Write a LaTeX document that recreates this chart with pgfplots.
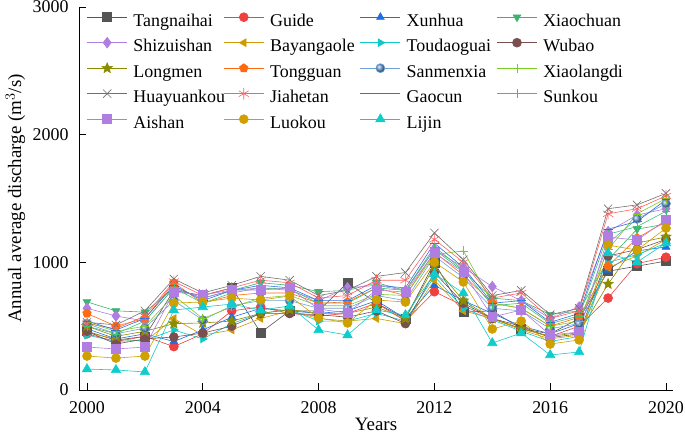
\documentclass[border=0pt]{standalone}
\usepackage{fontspec}
\setmainfont{Liberation Serif}
\usepackage{pgfplots}
\usepackage{pgfplotstable}
\pgfplotsset{compat=1.18}
\usetikzlibrary{plotmarks}

\definecolor{cTan}{HTML}{555555}
\definecolor{cGui}{HTML}{F0403F}
\definecolor{cXun}{HTML}{1E6FE0}
\definecolor{cXch}{HTML}{3CB371}
\definecolor{cShi}{HTML}{B07EE0}
\definecolor{cBay}{HTML}{D09A00}
\definecolor{cTou}{HTML}{10C8C8}
\definecolor{cWub}{HTML}{7A4F4F}
\definecolor{cLon}{HTML}{8C8C00}
\definecolor{cTon}{HTML}{FF6A10}
\definecolor{cSan}{HTML}{6FA0D8}
\definecolor{cXla}{HTML}{7CCD22}
\definecolor{cHua}{HTML}{707070}
\definecolor{cJia}{HTML}{FF6060}
\definecolor{cGao}{HTML}{3070E0}
\definecolor{cSun}{HTML}{40C070}
\definecolor{cAis}{HTML}{B07EE0}
\definecolor{cLuo}{HTML}{D0A000}
\definecolor{cLij}{HTML}{10CCCC}

\pgfdeclareplotmark{fstar}{%
  \pgfpathmoveto{\pgfpointpolar{90}{\pgfplotmarksize}}%
  \pgfpathlineto{\pgfpointpolar{126}{0.45\pgfplotmarksize}}%
  \pgfpathlineto{\pgfpointpolar{162}{\pgfplotmarksize}}%
  \pgfpathlineto{\pgfpointpolar{198}{0.45\pgfplotmarksize}}%
  \pgfpathlineto{\pgfpointpolar{234}{\pgfplotmarksize}}%
  \pgfpathlineto{\pgfpointpolar{270}{0.45\pgfplotmarksize}}%
  \pgfpathlineto{\pgfpointpolar{306}{\pgfplotmarksize}}%
  \pgfpathlineto{\pgfpointpolar{342}{0.45\pgfplotmarksize}}%
  \pgfpathlineto{\pgfpointpolar{18}{\pgfplotmarksize}}%
  \pgfpathlineto{\pgfpointpolar{54}{0.45\pgfplotmarksize}}%
  \pgfpathclose\pgfusepathqfillstroke}

\pgfplotsset{
  every axis plot/.append style={
    legend image code/.code={\draw[mark repeat=2,mark phase=2,##1] plot coordinates {(0bp,0bp) (20bp,0bp) (40bp,0bp)};},
  },
}

\pgfplotstableread{
year Tan Gui Xun Xch Shi Bay Tou Wub Lon Ton San Xla Hua Jia Gao Sun Ais Luo Lij
2000 460 440 480 690 640 450 430 460 500 600 520 530 530 520 540 500 337 266 164
2001 390 380 400 620 580 400 380 360 420 500 440 460 510 480 470 440 321 250 157
2002 420 420 440 610 540 380 390 400 460 560 485 500 620 580 560 540 337 266 141
2003 780 340 380 800 800 560 470 415 520 840 700 740 870 850 820 800 767 681 626
2004 740 440 470 720 720 430 400 446 525 680 548 560 760 740 700 680 744 689 650
2005 800 620 570 780 780 470 520 500 540 740 660 650 820 800 780 760 783 720 673
2006 450 650 640 840 800 560 600 600 600 760 700 720 890 860 820 800 783 705 626
2007 620 600 620 820 780 620 630 600 630 760 700 740 860 840 800 790 799 736 658
2008 620 580 600 770 700 560 540 590 600 680 640 660 740 720 700 680 634 564 470
2009 840 600 620 780 800 540 540 570 600 690 640 660 780 740 700 680 603 525 430
2010 680 680 700 840 820 560 600 620 650 800 740 750 890 860 820 800 783 705 626
2011 560 540 560 780 780 520 540 520 560 740 700 740 920 860 800 780 767 689 587
2012 1000 770 820 1100 1100 860 890 920 970 1080 1050 1060 1230 1180 1150 1120 1072 1002 910
2013 610 660 700 930 960 620 640 680 700 900 880 1090 1020 1000 960 940 924 846 759
2014 620 560 600 720 810 560 550 560 560 680 640 680 740 720 680 660 572 478 368
2015 480 480 500 700 700 470 460 500 480 640 620 640 780 760 700 680 626 540 446
2016 440 420 440 590 560 400 380 410 420 500 480 500 590 560 530 520 431 360 274
2017 560 500 520 620 650 430 420 440 450 570 520 540 640 620 600 580 454 392 298
2018 930 720 940 1020 1240 960 1000 1050 830 970 1150 1100 1420 1380 1260 1220 1198 1135 1072
2019 970 990 1090 1260 1370 1050 1060 1100 1150 1190 1340 1380 1450 1420 1320 1280 1174 1096 1002
2020 1010 1040 1120 1300 1420 1180 1150 1180 1200 1320 1460 1500 1540 1520 1490 1400 1331 1268 1151
}\datatable

\newcommand{\lb}[1]{\hspace{6bp}\makebox[90bp][l]{\rule[-7bp]{0pt}{26.5bp}#1}}

\begin{document}
\begin{tikzpicture}
\begin{axis}[
  name=ax,
  scale only axis,
  width=594bp, height=383bp,
  xmin=1999.724, xmax=2020.242,
  ymin=0, ymax=3000,
  axis x line*=bottom, axis y line*=left,
  axis line style={-, line width=0.9pt},
  tick align=inside,
  major tick length=7bp,
  tick style={line width=0.9pt, black},
  xtick={2000,2004,...,2020},
  ytick={0,1000,2000,3000},
  minor tick num=0,
  /pgf/number format/.cd, 1000 sep={}, assume math mode=true, /pgfplots/.cd,
  ticklabel style={font=\fontsize{18}{20}\selectfont},
  xticklabel style={anchor=base, yshift=-23bp},
  yticklabel style={anchor=east, xshift=-7bp},
  label style={font=\fontsize{19}{22}\selectfont},
  xlabel={Years},
  ylabel={Annual average discharge (m$^{3}$/s)},
  xlabel style={at={(axis description cs:0.5,0)}, anchor=base, yshift=-40.5bp, inner sep=0pt},
  ylabel style={at={(axis description cs:-0.0976,0.5)}, anchor=base},
  every axis plot/.append style={line width=0.6pt, mark size=4.5pt},
  legend columns=4,
  legend cell align=left,
  legend style={at={(axis description cs:0,1)}, anchor=north west,
    xshift=7.7bp, yshift=0.5bp, inner sep=0pt,
    draw=none, fill=none, font=\fontsize{18}{20}\selectfont,
    nodes={inner sep=0pt}, row sep=4.5bp, column sep=0pt},
]
\addplot[color=cTan, mark=square*, mark options={fill=cTan}] table[x=year,y=Tan] {\datatable};
\addplot[color=cGui, mark=*, mark options={fill=cGui}] table[x=year,y=Gui] {\datatable};
\addplot[color=cXun, mark=triangle*, mark options={fill=cXun}] table[x=year,y=Xun] {\datatable};
\addplot[color=cXch, mark=triangle*, mark options={fill=cXch, rotate=180}] table[x=year,y=Xch] {\datatable};
\addplot[color=cShi, mark=diamond*, mark options={fill=cShi, scale=1.2}] table[x=year,y=Shi] {\datatable};
\addplot[color=cBay, mark=triangle*, mark options={fill=cBay, rotate=90}] table[x=year,y=Bay] {\datatable};
\addplot[color=cTou, mark=triangle*, mark options={fill=cTou, rotate=-90}] table[x=year,y=Tou] {\datatable};
\addplot[color=cWub, mark=*, mark options={fill=cWub}] table[x=year,y=Wub] {\datatable};
\addplot[color=cLon, mark=fstar, mark options={fill=cLon, scale=1.2}] table[x=year,y=Lon] {\datatable};
\addplot[color=cTon, mark=pentagon*, mark options={fill=cTon}] table[x=year,y=Ton] {\datatable};
\addplot[color=cSan, mark=ball, mark options={ball color=cSan}] table[x=year,y=San] {\datatable};
\addplot[color=cXla, mark=+, mark options={line width=0.6pt}] table[x=year,y=Xla] {\datatable};
\addplot[color=cHua, mark=x, mark options={line width=0.6pt, scale=1.3}] table[x=year,y=Hua] {\datatable};
\addplot[color=cJia, mark=asterisk, mark options={line width=0.6pt, scale=1.3}] table[x=year,y=Jia] {\datatable};
\addplot[color=cGao, mark=-, mark options={line width=0.8pt}] table[x=year,y=Gao] {\datatable};
\addplot[color=cSun, mark=+, mark options={line width=0.6pt}] table[x=year,y=Sun] {\datatable};
\addplot[color=cAis, mark=square*, mark options={fill=cAis}] table[x=year,y=Ais] {\datatable};
\addplot[color=cLuo, mark=*, mark options={fill=cLuo}] table[x=year,y=Luo] {\datatable};
\addplot[color=cLij, mark=triangle*, mark options={fill=cLij, scale=1.2}] table[x=year,y=Lij] {\datatable};
\legend{\lb{Tangnaihai},\lb{Guide},\lb{Xunhua},\lb{Xiaochuan},
\lb{Shizuishan},\lb{Bayangaole},\lb{Toudaoguai},\lb{Wubao},
\lb{Longmen},\lb{Tongguan},\lb{Sanmenxia},\lb{Xiaolangdi},
\lb{Huayuankou},\lb{Jiahetan},\lb{Gaocun},\lb{Sunkou},
\lb{Aishan},\lb{Luokou},\lb{Lijin}}
\end{axis}
\pgfresetboundingbox
\path[use as bounding box] ([xshift=-79bp,yshift=-45bp]ax.south west) rectangle ([xshift=12bp,yshift=7bp]ax.north east);
\end{tikzpicture}
\end{document}
